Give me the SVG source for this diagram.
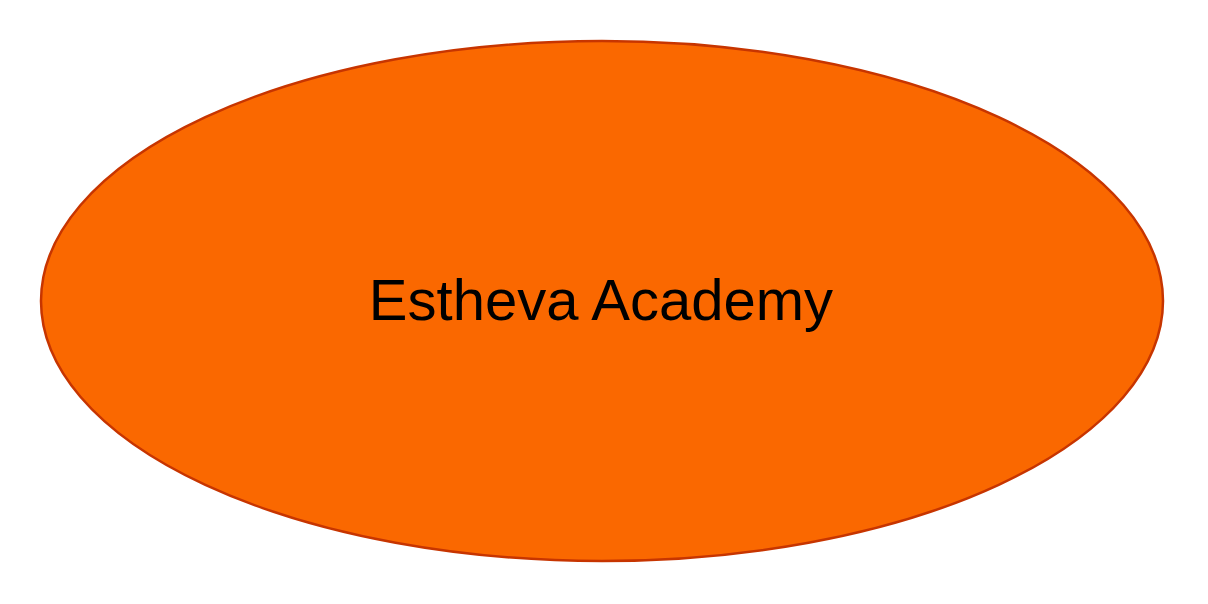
<svg xmlns="http://www.w3.org/2000/svg" width="1208" height="604" viewBox="0 0 1208 604">
<style>
.node{fill:#FA6800;stroke:#C73500;stroke-width:2.5}
.lbl{font-family:"Liberation Sans",Arial,sans-serif;font-size:58px;fill:#000;text-anchor:middle}
</style>
<rect width="1208" height="604" fill="#FFFFFF"/>
<g id="connectors"></g>
<g id="node-estheva">
<ellipse class="node" cx="602" cy="301" rx="561" ry="260"/>
<text class="lbl" x="601" y="320">Estheva Academy</text>
</g>
</svg>
